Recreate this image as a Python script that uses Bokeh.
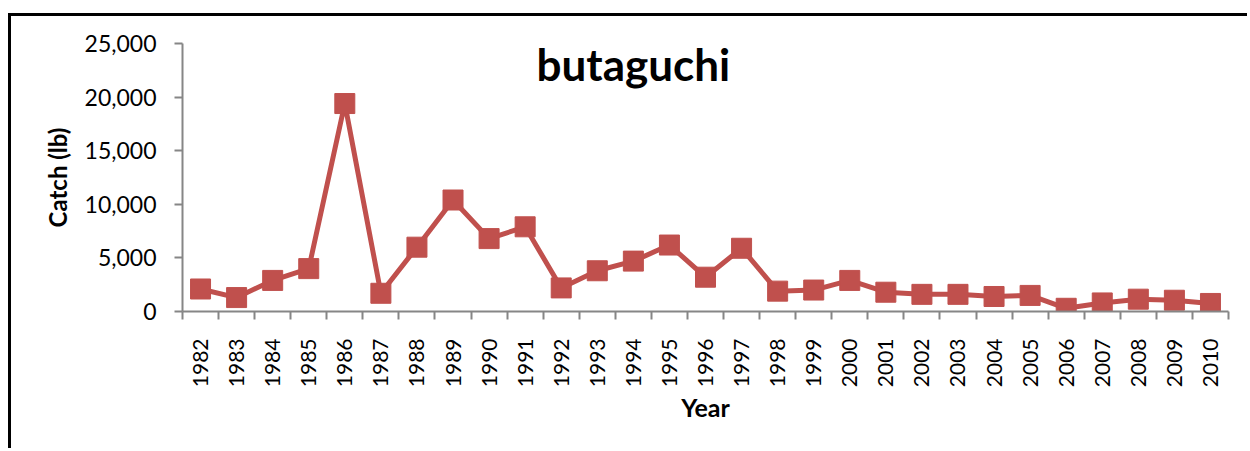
from bokeh.plotting import figure
from bokeh.models import FixedTicker, NumeralTickFormatter, Label, Range1d
from bokeh.embed import file_html
from bokeh.resources import INLINE

years = list(range(1982, 2011))
catch_lb = [2100, 1300, 2900, 4000, 19400, 1700, 6000, 10400, 6800, 7900,
            2200, 3800, 4700, 6200, 3200, 5900, 1900, 2000, 2900, 1800,
            1600, 1600, 1400, 1500, 300, 800, 1150, 1050, 750]
y_ticks = [0, 5000, 10000, 15000, 20000, 25000]
title_text = "butaguchi"
x_label = "Year"
y_label = "Catch (lb)"

RED = "#C0504D"
GRAY = "#868686"
FONT = "Lato"

p = figure(width=1239, height=435, output_backend="svg", toolbar_location=None,
           x_range=Range1d(years[0] - 0.5, years[-1] + 0.5),
           y_range=Range1d(0, 25000),
           min_border_left=171, min_border_right=22, min_border_top=27,
           min_border_bottom=140)
p.margin = (13, 0, 0, 8)
p.styles = {"border-left": "3px solid black", "border-top": "3px solid black"}
p.outline_line_color = None
p.xgrid.grid_line_color = None
p.ygrid.grid_line_color = None

p.line(years, catch_lb, line_color=RED, line_width=5)
p.scatter(years, catch_lb, marker="square", size=20, fill_color=RED, line_color=RED)

xa = p.xaxis[0]
xa.ticker = FixedTicker(ticks=years, minor_ticks=[y - 0.5 for y in years] + [years[-1] + 0.5])
xa.major_tick_out = 0
xa.major_tick_in = 0
xa.minor_tick_out = 8
xa.minor_tick_in = 0
xa.minor_tick_line_color = GRAY
xa.axis_line_color = GRAY
xa.axis_line_width = 2
xa.minor_tick_line_width = 2
xa.major_label_orientation = 1.5707963
xa.major_label_standoff = 19
xa.major_label_text_font = FONT
xa.major_label_text_font_size = "21px"
xa.major_label_text_color = "black"
xa.axis_label = x_label
xa.axis_label_text_font = FONT
xa.axis_label_text_font_style = "bold"
xa.axis_label_text_font_size = "25px"
xa.axis_label_text_color = "black"
xa.axis_label_standoff = 2

ya = p.yaxis[0]
ya.ticker = FixedTicker(ticks=y_ticks)
ya.formatter = NumeralTickFormatter(format="0,0")
ya.major_tick_out = 8
ya.major_tick_in = 0
ya.minor_tick_out = 0
ya.minor_tick_in = 0
ya.major_tick_line_color = GRAY
ya.major_tick_line_width = 2
ya.axis_line_color = GRAY
ya.axis_line_width = 2
ya.major_label_standoff = 18
ya.major_label_text_font = FONT
ya.major_label_text_font_size = "23px"
ya.major_label_text_color = "black"
ya.axis_label = y_label
ya.axis_label_text_font = FONT
ya.axis_label_text_font_style = "bold"
ya.axis_label_text_font_size = "24px"
ya.axis_label_text_color = "black"
ya.axis_label_standoff = 10

p.add_layout(Label(x=1994.0, y=23050, text=title_text, text_align="center",
                   text_baseline="alphabetic", text_font=FONT, text_font_style="bold",
                   text_font_size="44px", text_color="black"))

open("out.html", "w").write(file_html(p, INLINE))
